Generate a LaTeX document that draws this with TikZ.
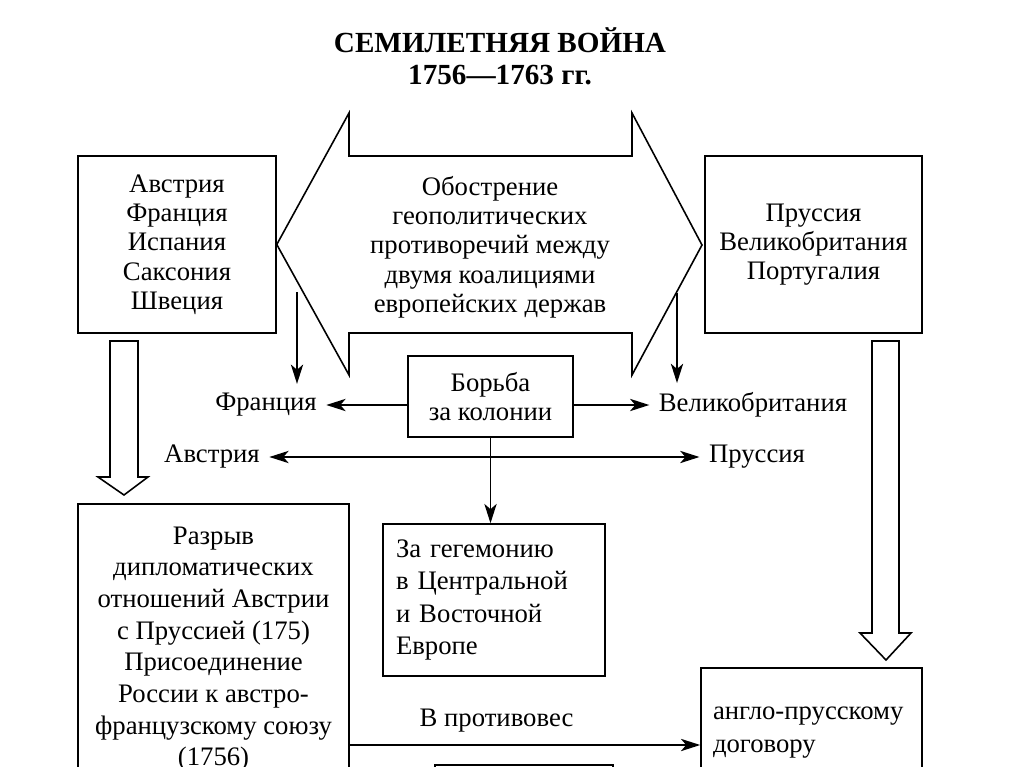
\documentclass[tikz,border=0pt]{standalone}
\usepackage{fontspec}
\setmainfont{Liberation Serif}
\usetikzlibrary{arrows.meta}

\begin{document}
\begin{tikzpicture}[x=0.02cm, y=-0.02cm, line width=0.9pt,
    >={Stealth[length=11pt,width=7pt,inset=3pt]},
    font=\fontsize{15.2}{16.7}\selectfont,
    box/.style={rectangle,draw,line width=0.9pt,align=center},
    lbl/.style={inner sep=5pt}]
    \useasboundingbox (0,0) rectangle (1024,767);

    \node[font=\bfseries\fontsize{16.6}{18}\selectfont,align=center] (title) at (500,56) {СЕМИЛЕТНЯЯ ВОЙНА\\1756—1763 гг.};

    \node[box,minimum width=3.96cm,minimum height=3.54cm] (coalition_a) at (177,244.5) {Австрия\\Франция\\Испания\\Саксония\\Швеция};
    \node[box,minimum width=4.34cm,minimum height=3.54cm] (coalition_b) at (813.5,244.5) {Пруссия\\Великобритания\\Португалия};

    \draw (coalition_a.east) -- (349,113) -- (349,156) -- (632,156) -- (632,113) -- (702,245) -- (632,375) -- (632,333) -- (349,333) -- (349,375) -- cycle;
    \node[align=center] (tension) at (490,247) {Обострение\\геополитических\\противоречий между\\двумя коалициями\\европейских держав};

    \node[box,minimum width=3.3cm,minimum height=1.62cm] (colonies) at (490.5,396.5) {Борьба\\за колонии};
    \node[lbl] (france) at (266,405) {Франция};
    \node[lbl] (britain) at (753,405) {Великобритания};
    \node[lbl] (austria) at (212,457) {Австрия};
    \node[lbl] (prussia) at (757,457) {Пруссия};

    \coordinate (france_top) at (297,292);
    \coordinate (britain_top) at (677,293);
    \draw[->] (france_top) -- (france_top |- france.north);
    \draw[->] (britain_top) -- (britain_top |- britain.north);
    \draw[->] (colonies.west |- france.east) -- (france.east);
    \draw[->] (colonies.east |- britain.west) -- (britain.west);
    \draw[<->] (austria.east) -- (prussia.west);

    \node[box,align=left,text width=3.92cm,inner xsep=0.26cm,minimum height=3.04cm,font=\fontsize{15.2}{18.4}\selectfont] (hegemony) at (494,600) {За гегемонию\\в Центральной\\и Восточной\\Европе};
    \draw[->] (colonies.south) -- (colonies.south |- hegemony.north);

    \draw (110,341) -- (138,341) -- (138,477) -- (148,477) -- (124,495) -- (98,477) -- (110,477) -- cycle;
    \draw (872,341) -- (899,341) -- (899,633) -- (911,633) -- (886,660) -- (860,633) -- (872,633) -- cycle;

    \node[box,anchor=north,minimum width=5.42cm,inner ysep=0.46cm,font=\fontsize{15.2}{18}\selectfont] (rupture) at (213.5,503) {Разрыв\\дипломатических\\отношений Австрии\\с Пруссией (175)\\Присоединение\\России к австро-\\французскому союзу\\(1756)};
    \node[box,anchor=north,align=left,text width=3.94cm,inner xsep=0.24cm,inner ysep=0.78cm,font=\fontsize{15.2}{18.7}\selectfont] (anglo) at (811.5,667) {англо-прусскому\\договору};
    \node[box,anchor=north,minimum width=3.56cm,minimum height=1cm] (lower_box) at (524,764) {};

    \coordinate (counter_start) at (349,745);
    \draw[->] (counter_start) -- (counter_start -| anglo.west) node[pos=0.42,above,inner sep=7pt] (counter_lbl) {В противовес};
\end{tikzpicture}
\end{document}
